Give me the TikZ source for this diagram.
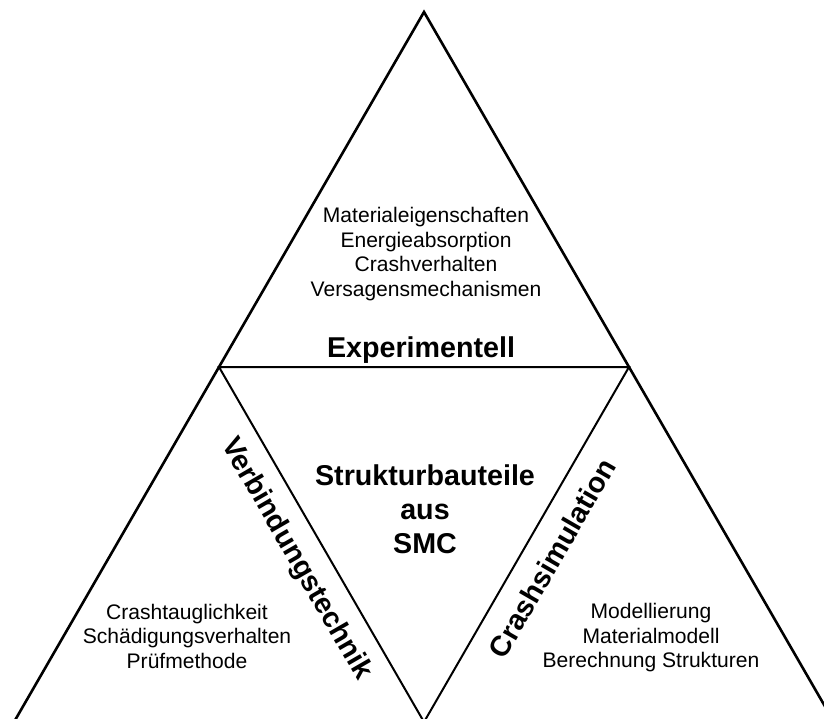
\documentclass[tikz,border=0pt]{standalone}
\usepackage{fontspec}
\setmainfont{Liberation Sans}
\begin{document}
\begin{tikzpicture}[x=0.75pt, y=-0.75pt,
        outer/.style={line width=1.95pt, line join=miter},
        inner/.style={line width=1.5pt},
        items/.style={align=center, inner sep=0pt, font=\fontsize{15.8}{18.4}\selectfont},
        heading/.style={align=center, inner sep=0pt, font=\fontsize{21.5}{25.5}\selectfont\bfseries}]
    \useasboundingbox (0,0) rectangle (824,718);

    % corners of the big triangle and the midpoints of its sides
    \coordinate (apex) at (424,12);
    \coordinate (lmid) at (219,367);
    \coordinate (rmid) at (629,367);
    \coordinate (bleft) at (14,722);
    \coordinate (bmid) at (424,722);
    \coordinate (bright) at (834,722);

    \begin{scope}
        \clip (0,0) rectangle (824,718);
        \draw[outer] (bleft) -- (apex) -- (bright);
        \draw[inner] (lmid) -- (rmid) -- (bmid) -- cycle;
    \end{scope}

    % top part
    \node[items] (topitems) at (426,254) {Materialeigenschaften\\Energieabsorption\\Crashverhalten\\Versagensmechanismen};
    \node[heading, anchor=base] (exp) at (421,357) {Experimentell};

    % centre part
    \node[heading] (centre) at (425,509) {Strukturbauteile\\aus\\SMC};

    % left part
    \node[heading, rotate=-60] (verb) at (296,559) {Verbindungstechnik};
    \node[items] (leftitems) at (187,636) {Crashtauglichkeit\\Schädigungsverhalten\\Prüfmethode};

    % right part
    \node[heading, rotate=60] (crash) at (552,558) {Crashsimulation};
    \node[items] (rightitems) at (651,638) {Modellierung\\Materialmodell\\Berechnung Strukturen};
\end{tikzpicture}
\end{document}
